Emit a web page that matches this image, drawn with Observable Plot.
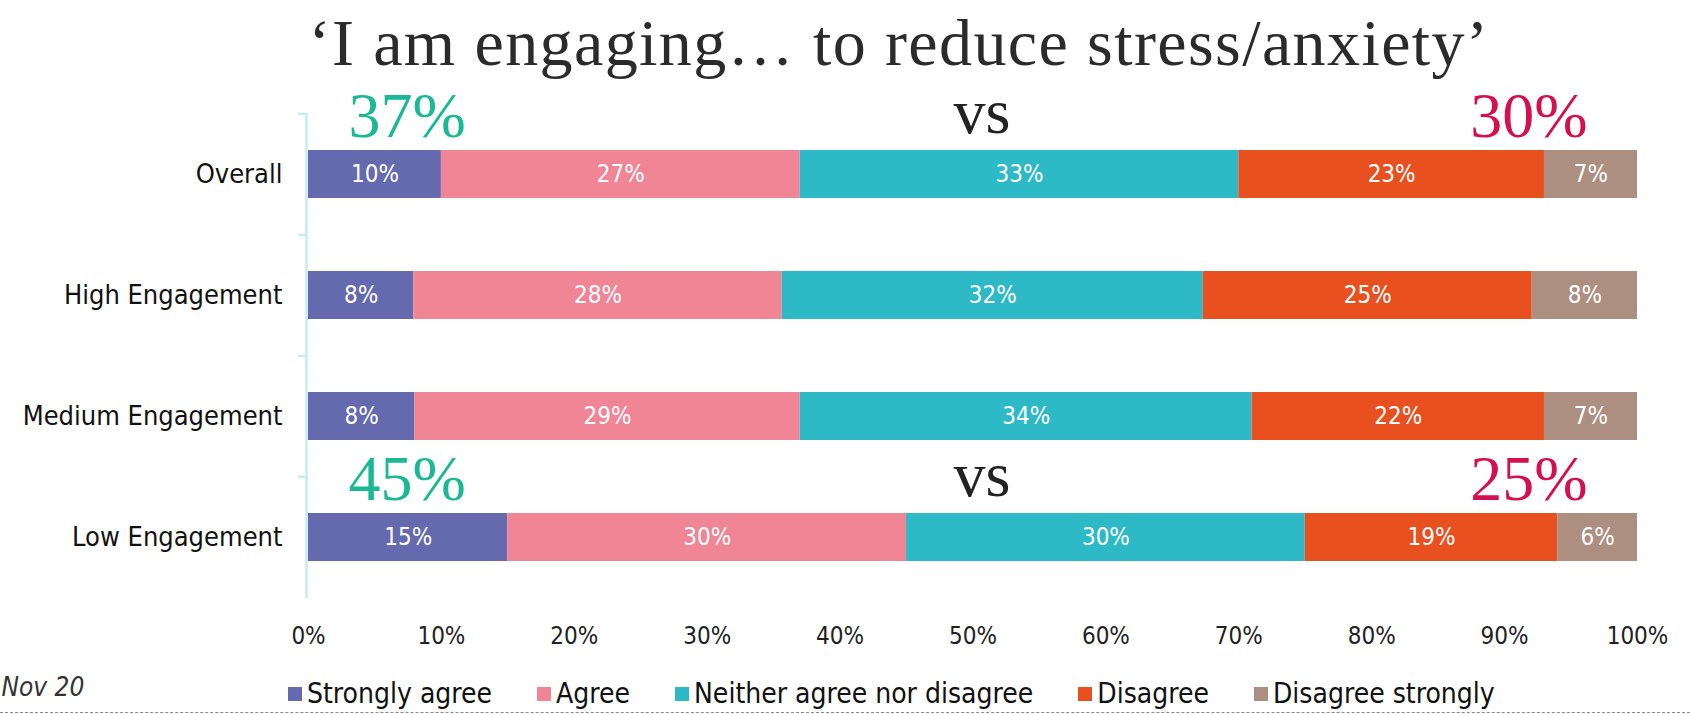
<!DOCTYPE html>
<html>
<head>
<meta charset="utf-8">
<script src="https://cdn.jsdelivr.net/npm/d3@7"></script>
<script src="https://cdn.jsdelivr.net/npm/@observablehq/plot@0.6"></script>
<style>
  html, body { margin: 0; padding: 0; background: #fff; overflow: hidden; }
  #wrap { position: relative; width: 1690px; height: 714px; overflow: hidden; }
  #chart { position: absolute; left: 0; top: 0; }
  #legend { position: absolute; left: 288px; top: 677px; }
  #legend > div { font-family: "DejaVu Sans Condensed", "DejaVu Sans", sans-serif !important; font-size: 28px !important; color: #111 !important; margin: 0 !important; min-height: 33px !important; }
  #legend span { margin-right: 45px !important; }
  #legend span > svg { margin-right: 5px !important; }
  #rule { position: absolute; left: 0; top: 712px; width: 1690px; height: 0; border-top: 1.5px dashed #8a8a8a; }
</style>
</head>
<body>
<div id="wrap">
  <div id="chart"></div>
  <div id="legend"></div>
  <div id="rule"></div>
</div>
<script>
// ---- data ----
const groups = ["Overall", "High Engagement", "Medium Engagement", "Low Engagement"];
const responses = ["Strongly agree", "Agree", "Neither agree nor disagree", "Disagree", "Disagree strongly"];
const colors = ["#6569AE", "#F08596", "#2DB9C6", "#E8501F", "#AC8F80"];
const stronglyAgree    = [10, 8, 8, 15];
const agree            = [27, 28, 29, 30];
const neither          = [33, 32, 34, 30];
const disagree         = [23, 25, 22, 19];
const disagreeStrongly = [7, 8, 7, 6];
const xTicks = [0, 10, 20, 30, 40, 50, 60, 70, 80, 90, 100];
const titleText = "\u2018I am engaging\u2026 to reduce stress/anxiety\u2019";
const highlightGroups = ["Overall", "Low Engagement"];
const footnote = "Nov 20";

// ---- derived tables ----
const series = [stronglyAgree, agree, neither, disagree, disagreeStrongly];
const rows = [];
groups.forEach((g, gi) => responses.forEach((r, ri) => rows.push({group: g, response: r, value: series[ri][gi]})));
const highlights = highlightGroups.map(g => {
  const i = groups.indexOf(g);
  return {group: g, agree: stronglyAgree[i] + agree[i], disagree: disagree[i] + disagreeStrongly[i]};
});

// ---- layout / style ----
const W = 1690, H = 714;
const mTop = 113, mBottom = 116, mLeft = 308, mRight = 53;
const step = (H - mTop - mBottom) / groups.length;
const sans = '"DejaVu Sans Condensed", "DejaVu Sans", sans-serif';
const serif = '"Liberation Serif", "DejaVu Serif", serif';
const cyan = "#c6ecf1";
const green = "#1BB896";
const crimson = "#D4114E";

const stackOpts = {x: "value", y: "group", z: "response", offset: "normalize", order: responses};

const chart = Plot.plot({
  width: W,
  height: H,
  marginTop: mTop,
  marginBottom: mBottom,
  marginLeft: mLeft,
  marginRight: mRight,
  style: {fontFamily: sans, background: "white", overflow: "visible"},
  x: {domain: [0, 1]},
  y: {domain: groups, paddingInner: 0.6, paddingOuter: 0.3},
  color: {domain: responses, range: colors},
  marks: [
    Plot.ruleX([0], {dx: -2, stroke: cyan, strokeWidth: 2.5}),
    Plot.axisY({tickSize: 8, stroke: cyan, strokeWidth: 2.5, fill: "none", label: null, dx: -2, dy: -step / 2, tickPadding: 0}),
    Plot.axisY({tickSize: 0, tickPadding: 26, fontSize: 27, fill: "#111", label: null}),
    Plot.axisX({ticks: xTicks.map(d => d / 100), tickFormat: d => `${Math.round(d * 100)}%`, tickSize: 0, tickPadding: 28, fontSize: 24, fill: "#222", label: null}),
    Plot.barX(rows, Plot.stackX({...stackOpts, fill: "response"})),
    Plot.text(rows, Plot.stackX({...stackOpts, text: d => `${d.value}%`, fill: "white", fontSize: 24})),
    Plot.text(highlights, {y: "group", frameAnchor: "left", text: d => `${d.agree}%`, textAnchor: "start", lineAnchor: "bottom", dx: 40, dy: -38, fontSize: 64, fontFamily: serif, fill: green}),
    Plot.text(highlights, {y: "group", frameAnchor: "middle", text: () => "vs", textAnchor: "middle", lineAnchor: "bottom", dx: 9, dy: -42, fontSize: 64, fontFamily: serif, fill: "#222"}),
    Plot.text(highlights, {y: "group", frameAnchor: "right", text: d => `${d.disagree}%`, textAnchor: "end", lineAnchor: "bottom", dx: -50, dy: -38, fontSize: 64, fontFamily: serif, fill: crimson}),
    Plot.text([titleText], {frameAnchor: "top-left", text: d => d, textAnchor: "start", lineAnchor: "bottom", dx: 0, dy: -49, fontSize: 66, fontFamily: serif, fill: "#2b2b2b"}),
    Plot.text([footnote], {frameAnchor: "bottom-left", text: d => d, textAnchor: "start", lineAnchor: "bottom", dx: -307, dy: 97, fontSize: 26, fontStyle: "italic", fill: "#333"})
  ]
});
d3.select(chart).selectAll("text").filter(function() { return this.textContent === titleText; }).style("letter-spacing", "1.4px");
document.getElementById("chart").appendChild(chart);

const legend = chart.legend("color", {legend: "swatches", swatchWidth: 14, swatchHeight: 14, className: "lg"});
document.getElementById("legend").appendChild(legend);
</script>
</body>
</html>
